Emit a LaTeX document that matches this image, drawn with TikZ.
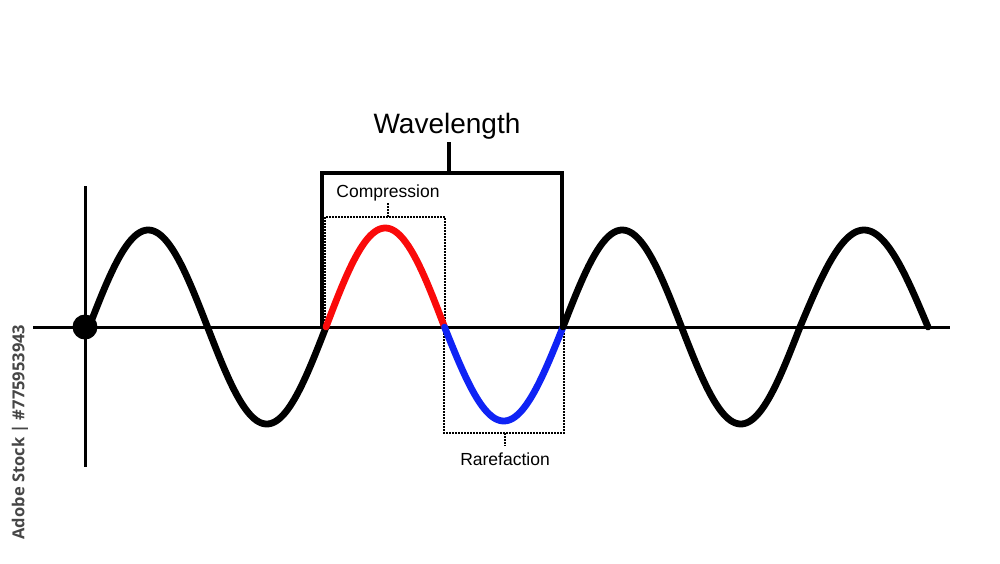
\documentclass[tikz,border=0pt]{standalone}
\usepackage{fontspec}
\setmainfont{Liberation Sans}
\newfontfamily\wmfont{Open Sans}
\definecolor{wavered}{RGB}{250,10,10}
\definecolor{waveblue}{RGB}{15,35,245}
\definecolor{wmgray}{RGB}{70,70,70}
\begin{document}
\begin{tikzpicture}[x=1pt,y=-1pt,
  wave/.style={line width=6.8pt,line cap=round,line join=round},
  axisline/.style={line width=3pt},
  bracketline/.style={line width=3.2pt},
  dotbox/.style={line width=2.8pt,dash pattern=on 1.7pt off 1.3pt},
  lbl/.style={inner sep=0pt,font=\fontsize{17.5}{20}\selectfont},
  bigl/.style={inner sep=0pt,font=\fontsize{28}{32}\selectfont}]
\useasboundingbox[fill=white] (0,0) rectangle (1000,563);
% axes
\coordinate (axL) at (33,327);
\coordinate (axR) at (950,327);
\coordinate (ayT) at (85,186);
\coordinate (ayB) at (85,467);
\draw[axisline] (axL) -- (axR);
\draw[axisline] (ayT) -- (ayB);
% boxes (dotted)
\draw[dotbox] (325,327) -- (325,217) -- (445,217) -- (445,327);
\draw[dotbox] (444,327) -- (444,433) -- (564,433) -- (564,327);
% wavelength bracket
\coordinate (brL) at (322,327);
\coordinate (brR) at (562,327);
\coordinate (brTop) at (449,173);
\draw[bracketline] (brL) -- (322,173) -- (562,173) -- (brR);
% wave
\draw[wave] plot[domain=89:326,samples=120,smooth] ({\x},{327-97*sin((\x-89)/237*360)});
\draw[wave,wavered] plot[domain=326:444.5,samples=60,smooth] ({\x},{327-99*sin((\x-89)/237*360)});
\draw[wave,waveblue] plot[domain=444.5:563,samples=60,smooth] ({\x},{327-94*sin((\x-89)/237*360)});
\draw[wave] plot[domain=563:800,samples=120,smooth] ({\x},{327-97*sin((\x-89)/237*360)});
\draw[wave] plot[domain=800:928,samples=60,smooth] ({\x},{327-97*sin((\x-800)/128*180)});
% origin dot
\node[circle,fill=black,minimum size=25pt,inner sep=0pt] (origin) at (85,327) {};
% labels
\node[bigl] (wl) at (447,126) {Wavelength};
\draw[bracketline] (brTop) -- (449,142);
\node[lbl] (comp) at (388,193) {Compression};
\coordinate (compTop) at (388,217);
\draw[dotbox] (compTop) -- (388,203);
\node[lbl] (rare) at (505,459) {Rarefaction};
\coordinate (rareBot) at (505,433);
\draw[dotbox] (rareBot) -- (505,446);
% watermark text
\node[rotate=90,text=wmgray,inner sep=0pt,font=\wmfont\bfseries\fontsize{16.5}{18}\selectfont] (wm) at (20,432) {Adobe Stock | \#775953943};
\end{tikzpicture}
\end{document}
